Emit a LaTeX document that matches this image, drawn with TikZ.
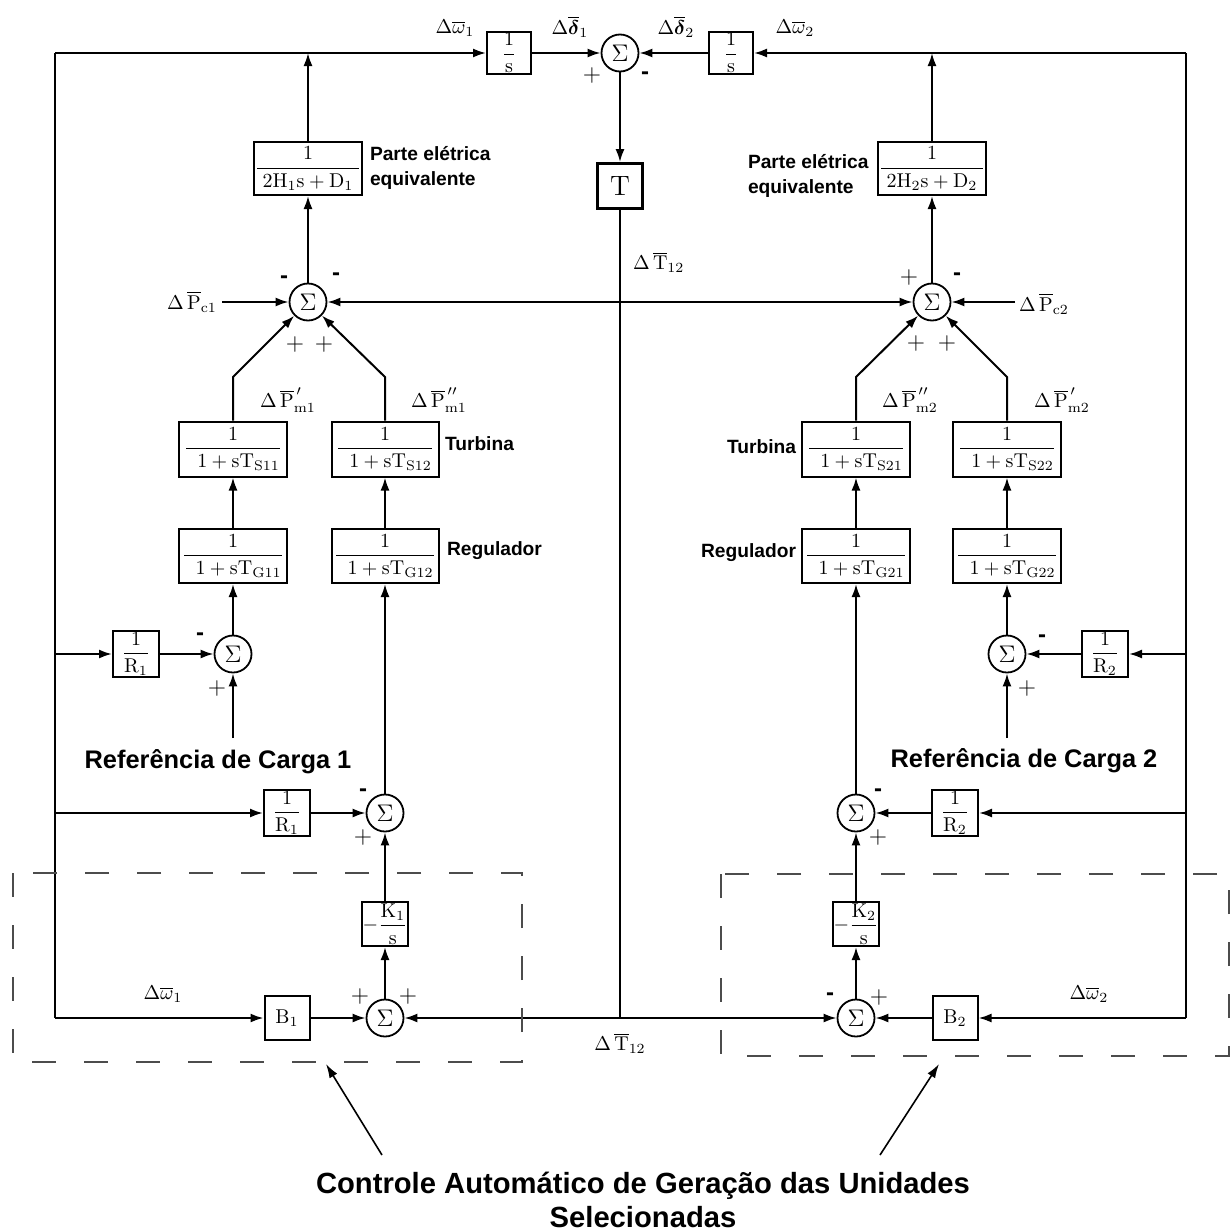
\documentclass[tikz,border=0pt]{standalone}
\usepackage{amsmath}
\usepackage{fontspec}
\setsansfont{Liberation Sans}
\usetikzlibrary{arrows.meta}
\newcommand\labS{\fontsize{9.6}{12.5}\selectfont\sffamily\bfseries}
\newcommand\labB{\fontsize{12.7}{15}\selectfont\sffamily\bfseries}
\newcommand\labC{\fontsize{14.6}{17}\selectfont\sffamily\bfseries}
\newcommand\mlab{\fontsize{10}{12}\selectfont}
\newcommand\bmath{\fontsize{10}{12}\selectfont}
\tikzset{
  blk/.style={draw, line width=1pt, inner sep=0.5pt, fill=white, font=\bmath},
  sumn/.style={circle, draw, line width=0.9pt, minimum size=18.5pt, inner sep=0pt, fill=white, font=\fontsize{12}{12}\selectfont},
  arr/.style={-{Latex[length=6.5pt,width=4.5pt]}},
  pl/.style={inner sep=0pt, font=\fontsize{12}{12}\selectfont},
  mi/.style={inner sep=0pt, font=\fontsize{12}{12}\selectfont\sffamily\bfseries},
  ml/.style={inner sep=0pt, font=\mlab},
  dbox/.style={draw=black!70, line width=1pt, dash pattern=on 12pt off 14pt},
  note/.style={line width=0.8pt, -{Latex[length=7pt,width=4.5pt]}}
}
\begin{document}
\begin{tikzpicture}[x=0.5pt,y=-0.5pt,line width=1pt]
\useasboundingbox (0,0) rectangle (1231,1232);
% coordinates
\coordinate (tl) at (55,53);
\coordinate (tr) at (1186,53);
\coordinate (w1) at (308,53);
\coordinate (w2) at (932,53);
\coordinate (L654) at (55,654);
\coordinate (L813) at (55,813);
\coordinate (bl) at (55,1018);
\coordinate (R654) at (1186,654);
\coordinate (R813) at (1186,813);
\coordinate (br) at (1186,1018);
\coordinate (j302) at (620,302);
\coordinate (j1018) at (620,1018);
\coordinate (pc1) at (222,302);
\coordinate (pc2) at (1015,302);
\coordinate (dL1) at (233,377);
\coordinate (dL2) at (385,377);
\coordinate (dR1) at (856,377);
\coordinate (dR2) at (1007,377);
\coordinate (ref1) at (233,738);
\coordinate (ref2) at (1007,738);

% blocks
\node[blk, minimum width=22pt, minimum height=21pt] (s1) at (509,53) {$\dfrac{1}{\mathrm{s}}$};
\node[blk, minimum width=22pt, minimum height=21pt] (s2) at (731,53) {$\dfrac{1}{\mathrm{s}}$};
\node[sumn] (sT) at (620,53) {$\Sigma$};
\node[blk, line width=1.4pt, minimum width=22.5pt, minimum height=22.5pt, font=\fontsize{14}{14}\selectfont] (T) at (620,186) {T};
\node[blk, minimum width=53.5pt, minimum height=26.5pt] (H1) at (308,168.5) {$\dfrac{1}{\;2\mathrm{H_1s}+\mathrm{D_1}\;}$};
\node[blk, minimum width=53.5pt, minimum height=26.5pt] (H2) at (932,168.5) {$\dfrac{1}{\;2\mathrm{H_2s}+\mathrm{D_2}\;}$};
\node[sumn] (sL) at (308,302) {$\Sigma$};
\node[sumn] (sR) at (932,302) {$\Sigma$};

\node[blk, minimum width=54pt, minimum height=27.5pt] (TS11) at (233,449) {$\dfrac{1}{\;\;1+\mathrm{sT_{S11}}}$};
\node[blk, minimum width=53.5pt, minimum height=27.5pt] (TS12) at (385,449) {$\dfrac{1}{\;\;1+\mathrm{sT_{S12}}}$};
\node[blk, minimum width=54pt, minimum height=27.5pt] (TS21) at (856,449) {$\dfrac{1}{\;\;1+\mathrm{sT_{S21}}}$};
\node[blk, minimum width=54pt, minimum height=27.5pt] (TS22) at (1007,449) {$\dfrac{1}{\;\;1+\mathrm{sT_{S22}}}$};
\node[blk, minimum width=54pt, minimum height=27pt] (G11) at (233,556) {$\dfrac{1}{\;\;1+\mathrm{sT_{G11}}}$};
\node[blk, minimum width=53.5pt, minimum height=27pt] (G12) at (385,556) {$\dfrac{1}{\;\;1+\mathrm{sT_{G12}}}$};
\node[blk, minimum width=54pt, minimum height=27pt] (G21) at (856,556) {$\dfrac{1}{\;\;1+\mathrm{sT_{G21}}}$};
\node[blk, minimum width=54pt, minimum height=27pt] (G22) at (1007,556) {$\dfrac{1}{\;\;1+\mathrm{sT_{G22}}}$};

\node[sumn] (a11) at (233,654) {$\Sigma$};
\node[sumn] (a12) at (385,813) {$\Sigma$};
\node[sumn] (a22) at (1007,654) {$\Sigma$};
\node[sumn] (a21) at (856,813) {$\Sigma$};
\node[sumn] (bL) at (385,1018) {$\Sigma$};
\node[sumn] (bR) at (856,1018) {$\Sigma$};

\node[blk, minimum width=23pt, minimum height=22.5pt] (R1a) at (136,654) {$\dfrac{1}{\mathrm{R_1}}$};
\node[blk, minimum width=23pt, minimum height=22.5pt] (R1b) at (287,813) {$\dfrac{1}{\mathrm{R_1}}$};
\node[blk, minimum width=23pt, minimum height=22.5pt] (R2a) at (1105,654) {$\dfrac{1}{\mathrm{R_2}}$};
\node[blk, minimum width=23pt, minimum height=22.5pt] (R2b) at (955,813) {$\dfrac{1}{\mathrm{R_2}}$};
\node[blk, minimum width=22.5pt, minimum height=22pt] (K1) at (385,924) {$-\dfrac{\mathrm{K_1}}{\mathrm{s}}$};
\node[blk, minimum width=22.5pt, minimum height=22pt] (K2) at (856,924) {$-\dfrac{\mathrm{K_2}}{\mathrm{s}}$};
\node[blk, minimum width=22.5pt, minimum height=22pt] (B1) at (287,1018) {$\mathrm{B_1}$};
\node[blk, minimum width=22.5pt, minimum height=22pt] (B2) at (955,1018) {$\mathrm{B_2}$};

% connectors
\draw (tl) -- (bl);
\draw (tr) -- (br);
\draw[arr] (tl) -- (s1);
\draw[arr] (s1) -- (sT);
\draw[arr] (tr) -- (s2);
\draw[arr] (s2) -- (sT);
\draw[arr] (sT) -- (T);
\draw[arr] (H1) -- (w1);
\draw[arr] (H2) -- (w2);
\draw[arr] (sL) -- (H1);
\draw[arr] (sR) -- (H2);
\draw (T) -- (j1018);
\draw[arr] (j302) -- (sL);
\draw[arr] (j302) -- (sR);
\draw[arr] (pc1) -- (sL);
\draw[arr] (pc2) -- (sR);
\draw[arr] (TS11) -- (dL1) -- (sL);
\draw[arr] (TS12) -- (dL2) -- (sL);
\draw[arr] (TS21) -- (dR1) -- (sR);
\draw[arr] (TS22) -- (dR2) -- (sR);
\draw[arr] (G11) -- (TS11);
\draw[arr] (G12) -- (TS12);
\draw[arr] (G21) -- (TS21);
\draw[arr] (G22) -- (TS22);
\draw[arr] (a11) -- (G11);
\draw[arr] (a12) -- (G12);
\draw[arr] (a21) -- (G21);
\draw[arr] (a22) -- (G22);
\draw[arr] (L654) -- (R1a);
\draw[arr] (R1a) -- (a11);
\draw[arr] (ref1) -- (a11);
\draw[arr] (L813) -- (R1b);
\draw[arr] (R1b) -- (a12);
\draw[arr] (K1) -- (a12);
\draw[arr] (bL) -- (K1);
\draw[arr] (bl) -- (B1);
\draw[arr] (B1) -- (bL);
\draw[arr] (j1018) -- (bL);
\draw[arr] (R654) -- (R2a);
\draw[arr] (R2a) -- (a22);
\draw[arr] (ref2) -- (a22);
\draw[arr] (R813) -- (R2b);
\draw[arr] (R2b) -- (a21);
\draw[arr] (K2) -- (a21);
\draw[arr] (bR) -- (K2);
\draw[arr] (br) -- (B2);
\draw[arr] (B2) -- (bR);
\draw[arr] (j1018) -- (bR);

% dashed AGC boxes
\draw[dbox] (13,873) rectangle (522,1062);
\draw[dbox] (721,874) rectangle (1229,1056);
\coordinate (ta1) at (382,1155);
\coordinate (tp1) at (326,1064);
\coordinate (ta2) at (880,1155);
\coordinate (tp2) at (939,1064);
\draw[note] (ta1) -- (tp1);
\draw[note] (ta2) -- (tp2);

% signs
\node[pl] (g1) at (592,75) {$+$};
\node[mi] (g2) at (645,76) {-};
\node[mi] (g3) at (284,280) {-};
\node[mi] (g4) at (336,277) {-};
\node[pl] (g5) at (295,344) {$+$};
\node[pl] (g6) at (324,344) {$+$};
\node[pl] (g7) at (909,277) {$+$};
\node[mi] (g8) at (957,277) {-};
\node[pl] (g9) at (916,343) {$+$};
\node[pl] (g10) at (947,343) {$+$};
\node[mi] (g11) at (200,637) {-};
\node[pl] (g12) at (217,688) {$+$};
\node[mi] (g13) at (363,793) {-};
\node[pl] (g14) at (363,837) {$+$};
\node[mi] (g15) at (1042,639) {-};
\node[pl] (g16) at (1027,688) {$+$};
\node[mi] (g17) at (878,793) {-};
\node[pl] (g18) at (878,837) {$+$};
\node[pl] (g19) at (360,996) {$+$};
\node[pl] (g20) at (408,996) {$+$};
\node[mi] (g21) at (830,997) {-};
\node[pl] (g22) at (879,997) {$+$};

% math labels
\node[ml] (lw1) at (455,28) {$\Delta\overline{\omega}_1$};
\node[ml] (ld1) at (570,27) {$\Delta\overline{\boldsymbol{\delta}}_1$};
\node[ml] (ld2) at (676,27) {$\Delta\overline{\boldsymbol{\delta}}_2$};
\node[ml] (lw2) at (795,28) {$\Delta\overline{\omega}_2$};
\node[ml, anchor=west] (lt1) at (632,262) {$\Delta\,\overline{\mathrm{T}}_{12}$};
\node[ml] (lt2) at (620,1043) {$\Delta\,\overline{\mathrm{T}}_{12}$};
\node[ml] (lpc1) at (192,302) {$\Delta\,\overline{\mathrm{P}}_{\mathrm{c1}}$};
\node[ml] (lpc2) at (1044,304) {$\Delta\,\overline{\mathrm{P}}_{\mathrm{c2}}$};
\node[ml] (lm1a) at (288,400) {$\Delta\,\overline{\mathrm{P}}^{\,\prime}_{\mathrm{m1}}$};
\node[ml] (lm1b) at (439,400) {$\Delta\,\overline{\mathrm{P}}^{\,\prime\prime}_{\mathrm{m1}}$};
\node[ml] (lm2b) at (910,400) {$\Delta\,\overline{\mathrm{P}}^{\,\prime\prime}_{\mathrm{m2}}$};
\node[ml] (lm2a) at (1062,400) {$\Delta\,\overline{\mathrm{P}}^{\,\prime}_{\mathrm{m2}}$};
\node[ml] (lw1b) at (163,994) {$\Delta\overline{\omega}_1$};
\node[ml] (lw2b) at (1089,994) {$\Delta\overline{\omega}_2$};

% text labels
\node[anchor=west, align=left, font=\labS, inner sep=0pt] (pe1) at (369,168) {Parte elétrica\\equivalente};
\node[anchor=west, align=left, font=\labS, inner sep=0pt] (pe2) at (747,176) {Parte elétrica\\equivalente};
\node[anchor=west, font=\labS, inner sep=0pt] (tb1) at (444,444) {Turbina};
\node[anchor=east, font=\labS, inner sep=0pt] (tb2) at (797,447) {Turbina};
\node[anchor=west, font=\labS, inner sep=0pt] (rg1) at (446,551) {Regulador};
\node[anchor=east, font=\labS, inner sep=0pt] (rg2) at (797,553) {Regulador};
\node[font=\labB, inner sep=0pt] (rc1) at (218,762) {Referência de Carga 1};
\node[font=\labB, inner sep=0pt] (rc2) at (1024,761) {Referência de Carga 2};
\node[font=\labC, align=center, inner sep=0pt] (agc) at (643,1200) {Controle Automático de Geração das Unidades\\Selecionadas};
\end{tikzpicture}
\end{document}
